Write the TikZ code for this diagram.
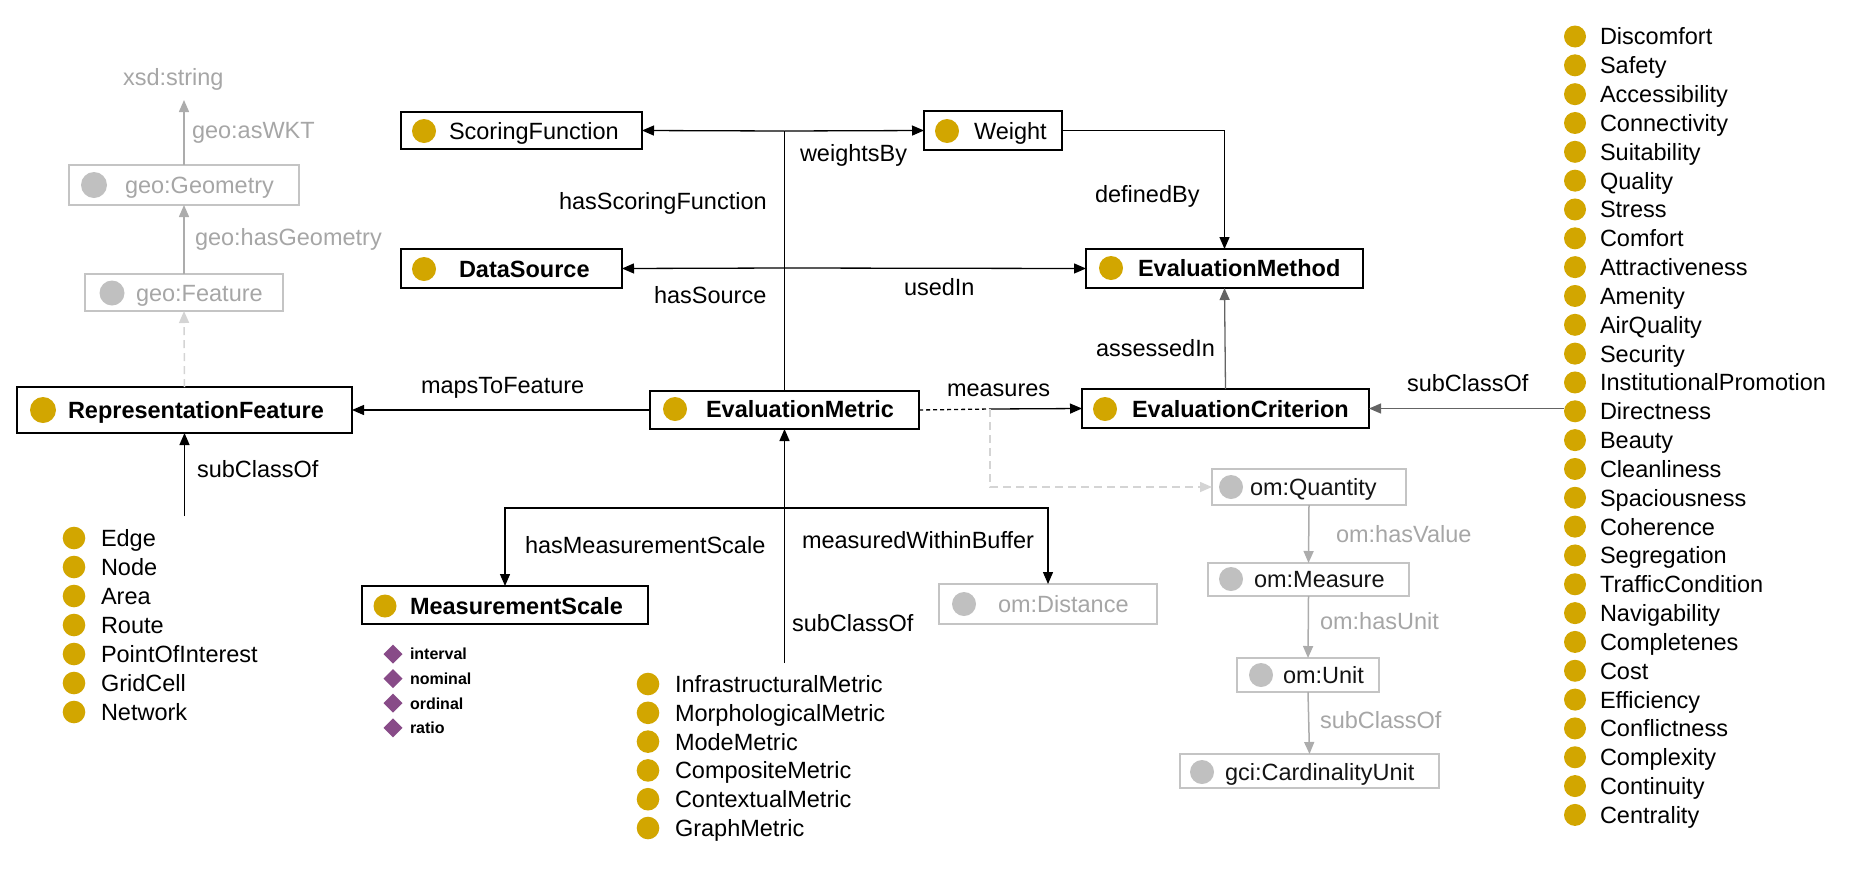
\documentclass[tikz,border=0pt]{standalone}
\usepackage{fontspec}
\setmainfont{Liberation Sans}
\usetikzlibrary{arrows.meta,calc}
\definecolor{gold}{RGB}{210,166,0}
\definecolor{greydot}{RGB}{192,192,192}
\definecolor{greytext}{RGB}{166,166,166}
\definecolor{greybox}{RGB}{196,196,196}
\definecolor{greyline}{RGB}{172,172,172}
\definecolor{lightdash}{RGB}{212,212,212}
\definecolor{midline}{RGB}{100,100,100}
\definecolor{violet}{RGB}{136,75,136}
\definecolor{nearblack}{RGB}{20,20,20}
\newcommand\myfs{\fontsize{23.5}{28}\selectfont}
\newcommand\mybox[6]{\node[#1,minimum width=#5-#3,minimum height=#6-#4] (#2) at ({(#3+#5)/2},{(#4+#6)/2}) {};}
\begin{document}
\begin{tikzpicture}[x=1pt,y=-1pt,
  every node/.style={inner sep=0pt,outer sep=0pt},
  lbl/.style={anchor=base west,font=\myfs,text=black},
  blbl/.style={anchor=base west,font=\myfs\bfseries,text=black},
  glbl/.style={anchor=base west,font=\myfs,text=greytext},
  slbl/.style={anchor=base west,font=\fontsize{16}{18}\selectfont\bfseries,text=black},
  box/.style={draw=black,line width=1.3pt,rectangle},
  gbox/.style={draw=greybox,line width=1.5pt,rectangle},
  arr/.style={line width=1.3pt,draw=black,-{Triangle[length=12pt,width=10pt]}},
  garr/.style={line width=1.5pt,draw=greyline,-{Triangle[length=12pt,width=10pt,fill=greyline]}},
  larr/.style={line width=1.5pt,draw=lightdash,dash pattern=on 8pt off 5pt,-{Triangle[length=12pt,width=10pt,fill=lightdash]}},
  gdot/.style={fill=greydot},
  cdot/.style={fill=gold},
]
\useasboundingbox (0,0) rectangle (1857,868);

% ---------- geo chain ----------
\node[glbl] (xsd) at (123,85.4) {xsd:string};
\coordinate (xsdin) at (184,100);
\mybox{gbox}{geoGeom}{69}{165}{299}{205}
\fill[gdot] (94,185) circle[radius=13];
\node[glbl] (geoGeomT) at (125,193.4) {geo:Geometry};
\mybox{gbox}{geoFeat}{85}{274}{283}{311}
\fill[gdot] (112,293) circle[radius=12.5];
\node[glbl] (geoFeatT) at (136,301.4) {geo:Feature};

% ---------- main classes ----------
\mybox{box}{RF}{17}{387}{352}{433}
\fill[cdot] (43,410) circle[radius=13];
\node[blbl] (RFT) at (68,418.4) {RepresentationFeature};

\mybox{box}{SF}{401}{112}{642}{149}
\fill[cdot] (424,131) circle[radius=12];
\node[lbl] (SFT) at (449,139.4) {ScoringFunction};

\mybox{box}{DS}{401}{249}{622}{288}
\fill[cdot] (424,269) circle[radius=12];
\node[blbl] (DST) at (459,277.4) {DataSource};

\mybox{box}{W}{924}{111}{1062}{150}
\fill[cdot] (947,131) circle[radius=12];
\node[lbl] (WT) at (974,139.4) {Weight};

\mybox{box}{EMeth}{1086}{249}{1363}{288}
\fill[cdot] (1111,268) circle[radius=12];
\node[blbl] (EMethT) at (1138,276.4) {EvaluationMethod};

\mybox{box}{EM}{650}{391}{919}{429}
\fill[cdot] (675,409) circle[radius=12];
\node[blbl] (EMT) at (706,417.4) {EvaluationMetric};

\mybox{box}{EC}{1082}{389}{1369}{428}
\fill[cdot] (1105,409) circle[radius=12];
\node[blbl] (ECT) at (1132,417.4) {EvaluationCriterion};

\mybox{box}{MS}{362}{586}{648}{624}
\fill[cdot] (385,606) circle[radius=11.5];
\node[blbl] (MST) at (410,614.4) {MeasurementScale};

% ---------- om chain ----------
\mybox{gbox}{omDist}{939}{584}{1157}{624}
\fill[gdot] (964,604) circle[radius=12];
\node[glbl] (omDistT) at (998,612.4) {om:Distance};

\mybox{gbox}{omQ}{1212}{469}{1406}{505}
\fill[gdot] (1231,487) circle[radius=12];
\node[lbl,text=nearblack] (omQT) at (1250,495.4) {om:Quantity};

\mybox{gbox}{omM}{1208}{563}{1409}{596}
\fill[gdot] (1231,579) circle[radius=12];
\node[lbl,text=nearblack] (omMT) at (1254,587.4) {om:Measure};

\mybox{gbox}{omU}{1237}{658}{1379}{692}
\fill[gdot] (1261,675) circle[radius=12];
\node[lbl,text=nearblack] (omUT) at (1283,683.4) {om:Unit};

\mybox{gbox}{gci}{1180}{754}{1439}{788}
\fill[gdot] (1202,772) circle[radius=12];
\node[lbl,text=nearblack] (gciT) at (1225,780.4) {gci:CardinalityUnit};

% ---------- lists ----------
\foreach \n [count=\i from 0] in {Edge,Node,Area,Route,PointOfInterest,GridCell,Network}{
  \fill[cdot] (74,{538+29*\i}) circle[radius=11.3];
  \node[lbl] (rf\i) at (101,{538+29*\i+8.4}) {\n};
}
\foreach \n [count=\i from 0] in {InfrastructuralMetric,MorphologicalMetric,ModeMetric,CompositeMetric,ContextualMetric,GraphMetric}{
  \fill[cdot] (648,{684+28.8*\i}) circle[radius=11.3];
  \node[lbl] (em\i) at (675,{684+28.8*\i+8.4}) {\n};
}
\foreach \n [count=\i from 0] in {interval,nominal,ordinal,ratio}{
  \fill[violet] (393,{654+24.6*\i}) +(-9.5,0) -- +(0,-9.5) -- +(9.5,0) -- +(0,9.5) -- cycle;
  \node[slbl] (ms\i) at (410,{654+24.6*\i+5.8}) {\n};
}
\foreach \n [count=\i from 0] in {Discomfort,Safety,Accessibility,Connectivity,Suitability,Quality,Stress,Comfort,Attractiveness,Amenity,AirQuality,Security,InstitutionalPromotion,Directness,Beauty,Cleanliness,Spaciousness,Coherence,Segregation,TrafficCondition,Navigability,Completenes,Cost,Efficiency,Conflictness,Complexity,Continuity,Centrality}{
  \fill[cdot] (1575,{36.5+28.83*\i}) circle[radius=11];
  \node[lbl] (ec\i) at (1600,{36.5+28.83*\i+8.4}) {\n};
}

% ---------- junctions ----------
\coordinate (tj) at (784.5,131);
\coordinate (dj) at (784.5,268);
\coordinate (bj) at (784.5,508);
\coordinate (emsub) at (784.5,663);
\coordinate (rfsub) at (184.5,516);
\coordinate (mj) at (990,409);
\coordinate (qj) at (990,487);
\coordinate (dirc) at (1564,408.5);

% ---------- connectors ----------
\draw[garr] (geoGeom.north) -- (xsdin);
\draw[garr] (geoFeat.north) -- (geoGeom.south);
\draw[larr] (RF.north) -- (geoFeat.south);
\draw[arr] (rfsub) -- (RF.south);
\draw[arr] (EM.west) -- (RF.east);

\draw[line width=1.3pt] (EM.north) -- (tj);
\draw[arr] (tj) -- (SF.east);
\draw[arr] (tj) -- (W.west);
\draw[arr] (dj) -- (DS.east);
\draw[arr] (dj) -- (EMeth.west);
\draw[arr] (W.east) -| (EMeth.north);
\draw[arr,draw=midline] (EC.north) -- (EMeth.south);

\draw[line width=1.3pt,dash pattern=on 4pt off 3pt] (EM.east) -- (mj);
\draw[arr] (mj) -- (EC.west);
\draw[larr] (mj) -- (qj) -- (omQ.west);
\draw[arr,draw=midline] (dirc) -- (EC.east);

\draw[arr] (emsub) -- (EM.south);
\draw[arr] (bj) -| (MS.north);
\draw[arr] (bj) -| (omDist.north);

\draw[garr] (omQ.south) -- (omM.north);
\draw[garr] (omM.south) -- (omU.north);
\draw[garr] (omU.south) -- (gci.north);

% ---------- edge labels ----------
\node[glbl] (l1) at (192,138.4) {geo:asWKT};
\node[glbl] (l2) at (195,245.4) {geo:hasGeometry};
\node[lbl] (l3) at (197,477.4) {subClassOf};
\node[lbl] (l4) at (421,393.4) {mapsToFeature};
\node[lbl] (l5) at (559,209.4) {hasScoringFunction};
\node[lbl] (l6) at (800,161.4) {weightsBy};
\node[lbl] (l7) at (654,303.4) {hasSource};
\node[lbl] (l8) at (904,295.4) {usedIn};
\node[lbl] (l9) at (1095,202.4) {definedBy};
\node[lbl] (l10) at (1096,356.4) {assessedIn};
\node[lbl] (l11) at (947,396.4) {measures};
\node[lbl] (l12) at (1407,391.4) {subClassOf};
\node[lbl] (l13) at (525,553.4) {hasMeasurementScale};
\node[lbl] (l14) at (802,548.4) {measuredWithinBuffer};
\node[lbl] (l15) at (792,631.4) {subClassOf};
\node[glbl] (l16) at (1336,542.4) {om:hasValue};
\node[glbl] (l17) at (1320,629.4) {om:hasUnit};
\node[glbl] (l18) at (1320,728.4) {subClassOf};
\end{tikzpicture}
\end{document}
